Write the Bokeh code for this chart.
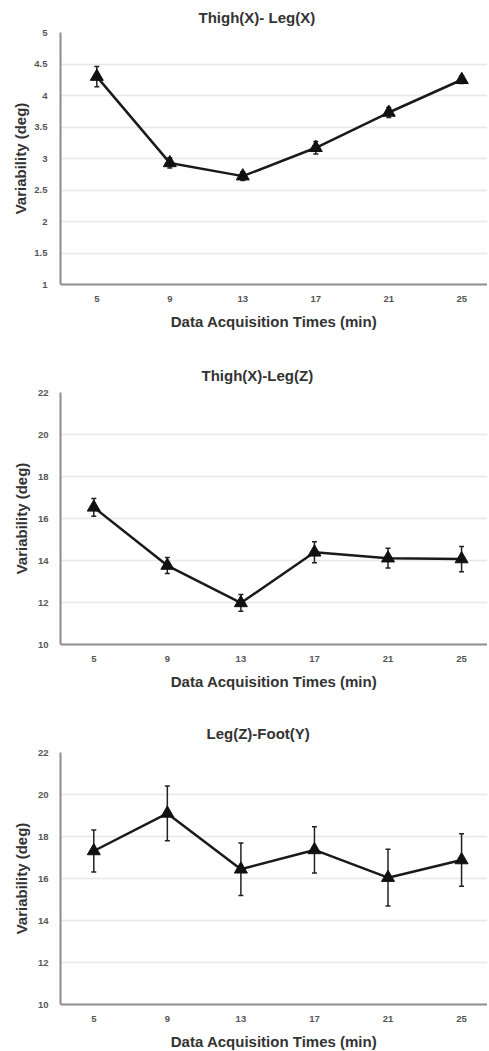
from bokeh.plotting import figure
from bokeh.models import ColumnDataSource, Whisker, TeeHead, FixedTicker, Range1d
from bokeh.layouts import column
from bokeh.embed import file_html
from bokeh.resources import INLINE

times = [5, 9, 13, 17, 21, 25]
titles = ["Thigh(X)- Leg(X)", "Thigh(X)-Leg(Z)", "Leg(Z)-Foot(Y)"]
xlabel = "Data Acquisition Times (min)"
ylabel = "Variability (deg)"

xx_mean = [4.30, 2.93, 2.72, 3.17, 3.73, 4.25]
xx_err = [0.16, 0.08, 0.07, 0.10, 0.08, 0.06]
xz_mean = [16.53, 13.76, 11.98, 14.39, 14.11, 14.07]
xz_err = [0.42, 0.38, 0.40, 0.50, 0.47, 0.60]
zy_mean = [17.31, 19.10, 16.44, 17.36, 16.04, 16.88]
zy_err = [1.00, 1.30, 1.25, 1.10, 1.35, 1.25]

yticks_1 = [1, 1.5, 2, 2.5, 3, 3.5, 4, 4.5, 5]
yticks_2 = [10, 12, 14, 16, 18, 20, 22]

FONT = "Liberation Sans"


def panel(title, mean, err, ticks, left, fw, top, bottom, xr, title_off,
          title_stand, ystand, ylab_stand):
    p = figure(frame_width=fw, frame_height=252, min_border_left=left,
               min_border_right=0, min_border_top=top, min_border_bottom=bottom,
               x_range=Range1d(*xr), y_range=Range1d(ticks[0], ticks[-1]),
               output_backend="svg", toolbar_location=None, title=title)
    p.outline_line_color = None
    p.title.text_font = FONT
    p.title.text_font_style = "bold"
    p.title.text_font_size = "15px"
    p.title.text_color = "#333333"
    p.title.align = "left"
    p.title.offset = title_off
    p.title.standoff = title_stand
    p.xgrid.grid_line_color = None
    p.ygrid.grid_line_color = "#e8e8e8"
    p.ygrid.grid_line_width = 1.5
    p.xaxis.ticker = FixedTicker(ticks=times)
    p.yaxis.ticker = FixedTicker(ticks=ticks)
    p.xaxis.axis_label = xlabel
    p.yaxis.axis_label = ylabel
    for ax in (p.xaxis[0], p.yaxis[0]):
        ax.axis_line_color = "#8c8c8c"
        ax.axis_line_width = 2
        ax.major_tick_line_color = None
        ax.minor_tick_line_color = None
        ax.major_label_text_font = FONT
        ax.major_label_text_font_style = "bold"
        ax.major_label_text_font_size = "9.5px"
        ax.major_label_text_color = "#555555"
        ax.axis_label_text_font = FONT
        ax.axis_label_text_font_style = "bold"
        ax.axis_label_text_color = "#333333"
        ax.axis_label_text_font_size = "15px"
    p.yaxis.major_tick_out = 0
    p.yaxis.major_tick_in = 0
    p.xaxis.major_label_standoff = 5
    p.yaxis.major_label_standoff = ystand
    p.xaxis.axis_label_standoff = 8
    p.yaxis.axis_label_standoff = ylab_stand

    src = ColumnDataSource(dict(
        x=times, y=mean,
        lo=[m - e for m, e in zip(mean, err)],
        hi=[m + e for m, e in zip(mean, err)]))
    w = Whisker(base="x", lower="lo", upper="hi", source=src, dimension="height",
                line_color="#222222", line_width=1.5,
                upper_head=TeeHead(size=5, line_color="#222222", line_width=1.5),
                lower_head=TeeHead(size=5, line_color="#222222", line_width=1.5))
    p.add_layout(w)
    p.line("x", "y", source=src, line_color="#1a1a1a", line_width=2.5)
    p.scatter("x", "y", source=src, marker="triangle", size=13,
              fill_color="#111111", line_color="#111111")
    return p


p1 = panel(titles[0], xx_mean, xx_err, yticks_1, 60, 427, 32, 48,
           (3.01, 26.41), 138, 13, 13, 2)
p2 = panel(titles[1], xz_mean, xz_err, yticks_2, 60, 427, 60, 48,
           (3.19, 26.41), 141, 18, 12, 5)
p3 = panel(titles[2], zy_mean, zy_err, yticks_2, 60, 427, 60, 44,
           (3.19, 26.41), 146, 21, 12, 5)

layout = column(p1, p2, p3, spacing=0)
open("out.html", "w").write(file_html(layout, INLINE))
